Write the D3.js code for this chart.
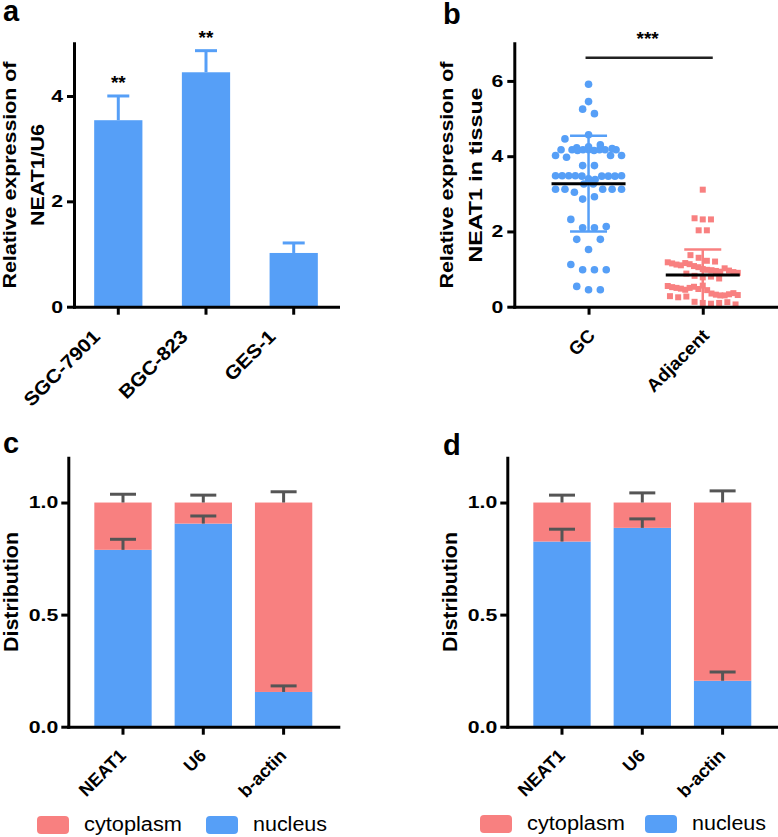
<!DOCTYPE html>
<html><head><meta charset="utf-8">
<script src="https://cdn.jsdelivr.net/npm/d3@7"></script>
<style>body{margin:0;background:#fff}svg{display:block}text{font-family:"Liberation Sans",Arial,sans-serif}</style>
</head><body><svg id="c" width="778" height="837"></svg>
<script>
// ---------- data ----------
const aCategories = ["SGC-7901", "BGC-823", "GES-1"];
const aValues = [3.54, 4.45, 1.02];
const aErrors = [0.46, 0.41, 0.19];
const aSignif = ["**", "**", ""];
const aTicks = [0, 2, 4];

const bGroups = ["GC", "Adjacent"];
const gcValues = [5.91, 5.45, 5.25, 5.13, 4.57, 4.46,
  4.22, 4.02, 4.17, 3.97, 4.17, 4.15, 4.17, 4.17, 4.15, 4.17, 4.17, 4.02, 4.17, 4.02, 4.25, 4.30, 4.20,
  3.75, 3.75,
  3.48, 3.48, 3.48, 3.48, 3.47, 3.40, 3.38, 3.47, 3.47, 3.47, 3.48,
  3.12, 3.12, 3.04, 3.26, 3.26, 3.12, 3.12, 3.12,
  2.86, 2.92,
  2.32, 2.10, 2.10, 2.13, 1.79, 1.52, 1.79, 1.12, 0.98, 0.98, 0.98, 0.54, 0.45, 0.45];
const adjValues = [3.11, 2.35, 2.32, 2.32, 2.03, 2.03, 1.37, 1.30,
  1.22, 1.18, 1.15, 1.12, 1.20, 1.10, 1.16, 1.13, 1.08, 1.05,
  1.00, 0.98, 0.97, 0.95, 0.93, 1.02, 0.96, 0.92, 0.90, 0.88,
  0.82, 0.78, 0.80, 0.75,
  0.55, 0.52, 0.50, 0.48, 0.45, 0.50, 0.53, 0.47, 0.56, 0.44,
  0.35, 0.32, 0.30, 0.28, 0.25, 0.30, 0.33, 0.27, 0.36, 0.31,
  0.13, 0.10, 0.08, 0.10, 0.12, 0.06];
const bMeans = [3.27, 0.84];
const bSDs = [1.27, 0.68];
const bSignif = "***";
const bTicks = [0, 2, 4, 6];

const cdCategories = ["NEAT1", "U6", "b-actin"];
const cdSeries = ["cytoplasm", "nucleus"];
const cNucleus = [0.789, 0.906, 0.155];
const cCytoplasm = [0.211, 0.094, 0.845];
const cNucleusErr = [0.047, 0.034, 0.027];
const cCytoplasmErr = [0.037, 0.033, 0.048];
const dNucleus = [0.826, 0.887, 0.205];
const dCytoplasm = [0.174, 0.113, 0.795];
const dNucleusErr = [0.055, 0.040, 0.039];
const dCytoplasmErr = [0.033, 0.043, 0.052];
const cdTicks = [0, 0.5, 1.0];

// ---------- style ----------
const BLUE = "#569ff7", RED = "#f88080", GRAY = "#555555";
const FONT = "Liberation Sans, Arial, sans-serif";
const svg = d3.select("#c");

function stretch(sel, f) {
  sel.each(function () {
    const L = this.getComputedTextLength();
    d3.select(this).attr("textLength", L * f).attr("lengthAdjust", "spacingAndGlyphs");
  });
}
function styleAxis(g, fs) {
  g.attr("font-family", FONT).attr("font-size", fs);
  g.select(".domain").attr("stroke", "#000").attr("stroke-width", 3).attr("stroke-linecap", "square");
  g.selectAll(".tick line").attr("stroke", "#000").attr("stroke-width", 3);
  g.selectAll(".tick text").attr("fill", "#000").attr("font-weight", "bold");
}
function letter(t, x, y) {
  svg.append("text").attr("x", x).attr("y", y).attr("font-size", 29).attr("font-weight", "bold").text(t);
}
function yTitle(lines, xs, cy, fs, lens) {
  lines.forEach((l, i) => {
    svg.append("text").attr("transform", `translate(${xs[i]},${cy}) rotate(-90)`)
      .attr("text-anchor", "middle").attr("font-size", fs).attr("font-weight", "bold")
      .attr("textLength", lens[i]).attr("lengthAdjust", "spacingAndGlyphs").text(l);
  });
}
function rotLabels(g, dx, dy, fs, f) {
  const t = g.selectAll(".tick text").attr("x", 0).attr("y", 0).attr("dy", 0)
    .attr("text-anchor", "end").attr("font-size", fs)
    .attr("transform", `translate(${dx},${dy}) rotate(-45)`);
  stretch(t, f);
}
// GraphPad-like column scatter: values binned into rows, spread symmetrically
function scatterOffsets(values, binH, slot, maxW) {
  const bins = d3.group(values.map((v, i) => ({v, i})), d => Math.floor(d.v / binH + 1e-9));
  const off = new Array(values.length).fill(0);
  for (const arr of bins.values()) {
    const n = arr.length;
    const s = n > 1 ? Math.min(slot, maxW / (n - 1)) : 0;
    arr.forEach((p, k) => { off[p.i] = (k - (n - 1) / 2) * s; });
  }
  return off;
}

// ---------- panel a ----------
letter("a", 3, 21);
const aY = d3.scaleLinear().domain([0, 5]).range([306.7, 43.3]);
const aX = d3.scaleBand().domain(aCategories).range([74, 338]).paddingInner(0.45).paddingOuter(0.23);
svg.append("g").selectAll("rect").data(aCategories).join("rect")
  .attr("x", d => aX(d)).attr("width", aX.bandwidth())
  .attr("y", (d, i) => aY(aValues[i])).attr("height", (d, i) => aY(0) - aY(aValues[i]))
  .attr("fill", BLUE);
const aErr = svg.append("g").attr("stroke", BLUE).attr("stroke-width", 3);
aCategories.forEach((c, i) => {
  const cx = aX(c) + aX.bandwidth() / 2, top = aY(aValues[i] + aErrors[i]);
  aErr.append("line").attr("x1", cx).attr("x2", cx).attr("y1", aY(aValues[i])).attr("y2", top);
  aErr.append("line").attr("x1", cx - 11).attr("x2", cx + 11).attr("y1", top).attr("y2", top);
  svg.append("text").attr("x", cx).attr("y", top - 7).attr("text-anchor", "middle")
    .attr("font-size", 19).attr("font-weight", "bold").text(aSignif[i]);
});
const aYg = svg.append("g").attr("transform", "translate(74,0)")
  .call(d3.axisLeft(aY).tickValues(aTicks).tickSize(7).tickSizeOuter(0).tickPadding(4).tickFormat(d3.format("d")));
styleAxis(aYg, 17); stretch(aYg.selectAll(".tick text"), 1.25);
const aXg = svg.append("g").attr("transform", "translate(0,306.7)")
  .call(d3.axisBottom(aX).tickSize(8).tickSizeOuter(0));
styleAxis(aXg, 19); rotLabels(aXg, -17, 31, 19, 1.1);
yTitle(["Relative expression of", "NEAT1/U6"], [16, 44], 175, 17.5, [227, 102]);

// ---------- panel b ----------
letter("b", 443, 24);
const bY = d3.scaleLinear().domain([0, 7]).range([306.7, 43.3]);
const bX = d3.scalePoint().domain(bGroups).range([514.3, 777]).padding(0.65);
const gcOff = scatterOffsets(gcValues, 0.3, 11.8, 66);
const adjOff = scatterOffsets(adjValues, 0.3, 8.2, 70);
svg.append("g").selectAll("circle").data(gcValues).join("circle")
  .attr("cx", (d, i) => bX("GC") + gcOff[i]).attr("cy", d => bY(d)).attr("r", 3.8).attr("fill", BLUE);
svg.append("g").selectAll("rect").data(adjValues).join("rect")
  .attr("x", (d, i) => bX("Adjacent") + adjOff[i] - 3).attr("y", d => bY(d) - 3)
  .attr("width", 6).attr("height", 6).attr("fill", RED);
bGroups.forEach((g, i) => {
  const cx = bX(g), col = i === 0 ? BLUE : RED;
  const hi = bY(bMeans[i] + bSDs[i]), lo = bY(bMeans[i] - bSDs[i]);
  const e = svg.append("g").attr("stroke", col).attr("stroke-width", 2.5);
  e.append("line").attr("x1", cx).attr("x2", cx).attr("y1", hi).attr("y2", i === 0 ? lo : bY(0));
  e.append("line").attr("x1", cx - 18.5).attr("x2", cx + 18.5).attr("y1", hi).attr("y2", hi);
  if (i === 0) e.append("line").attr("x1", cx - 18.5).attr("x2", cx + 18.5).attr("y1", lo).attr("y2", lo);
  svg.append("line").attr("x1", cx - 37).attr("x2", cx + 37).attr("y1", bY(bMeans[i])).attr("y2", bY(bMeans[i]))
    .attr("stroke", "#000").attr("stroke-width", 3);
});
svg.append("line").attr("x1", bX("GC") - 3).attr("x2", bX("Adjacent") + 10).attr("y1", 57.7).attr("y2", 57.7)
  .attr("stroke", "#222").attr("stroke-width", 2.5);
svg.append("text").attr("x", (bX("GC") + bX("Adjacent")) / 2 + 2).attr("y", 45).attr("text-anchor", "middle")
  .attr("font-size", 19).attr("font-weight", "bold").text(bSignif);
const bYg = svg.append("g").attr("transform", "translate(514.3,0)")
  .call(d3.axisLeft(bY).tickValues(bTicks).tickSize(7).tickSizeOuter(0).tickPadding(4).tickFormat(d3.format("d")));
styleAxis(bYg, 17); stretch(bYg.selectAll(".tick text"), 1.25);
const bXg = svg.append("g").attr("transform", "translate(0,306.7)")
  .call(d3.axisBottom(bX).tickSize(8).tickSizeOuter(0));
styleAxis(bXg, 18); rotLabels(bXg, 7, 30, 18, 1.05);
yTitle(["Relative expression of", "NEAT1 in tissue"], [453, 482], 175, 17.5, [227, 175]);

// ---------- panels c & d ----------
function stacked(opt) {
  const {x0, nuc, cyto, nucErr, cytoErr, lt, lx, ly, ty, tx, leg} = opt;
  letter(lt, lx, ly);
  const y = d3.scaleLinear().domain([0, 1.2]).range([726.7, 457.7]);
  const x = d3.scaleBand().domain(cdCategories).range([x0, x0 + 270]).paddingInner(0.286).paddingOuter(0.324);
  const rows = cdCategories.map((c, i) => ({cat: c, nucleus: nuc[i], cytoplasm: cyto[i]}));
  const stack = d3.stack().keys(["nucleus", "cytoplasm"])(rows);
  const color = {nucleus: BLUE, cytoplasm: RED};
  svg.append("g").selectAll("g").data(stack).join("g").attr("fill", d => color[d.key])
    .selectAll("rect").data(d => d).join("rect")
    .attr("x", d => x(d.data.cat)).attr("width", x.bandwidth())
    .attr("y", d => y(d[1])).attr("height", d => y(d[0]) - y(d[1]));
  const e = svg.append("g").attr("stroke", GRAY).attr("stroke-width", 3);
  cdCategories.forEach((c, i) => {
    const cx = x(c) + x.bandwidth() / 2;
    [[nuc[i], nucErr[i]], [nuc[i] + cyto[i], cytoErr[i]]].forEach(([v, er]) => {
      e.append("line").attr("x1", cx).attr("x2", cx).attr("y1", y(v)).attr("y2", y(v + er));
      e.append("line").attr("x1", cx - 13).attr("x2", cx + 13).attr("y1", y(v + er)).attr("y2", y(v + er));
    });
  });
  const yg = svg.append("g").attr("transform", `translate(${x0},0)`)
    .call(d3.axisLeft(y).tickValues(cdTicks).tickSize(7).tickSizeOuter(0).tickPadding(3).tickFormat(d3.format(".1f")));
  styleAxis(yg, 17); stretch(yg.selectAll(".tick text"), 1.25);
  const xg = svg.append("g").attr("transform", "translate(0,726.7)")
    .call(d3.axisBottom(x).tickSize(8).tickSizeOuter(0));
  styleAxis(xg, 18); rotLabels(xg, 4, 30, 18, 1.0);
  yTitle(["Distribution"], [tx], 592, 20.5, [120]);
  // legend
  const lg = svg.append("g");
  cdSeries.forEach((s, i) => {
    lg.append("rect").attr("x", leg[i * 2]).attr("y", ty).attr("width", 32).attr("height", 18).attr("rx", 4)
      .attr("fill", s === "nucleus" ? BLUE : RED);
    lg.append("text").attr("x", leg[i * 2 + 1]).attr("y", ty + 14.5).attr("font-size", 20)
      .attr("textLength", s === "nucleus" ? 74 : 98).attr("lengthAdjust", "spacingAndGlyphs").text(s);
  });
}
stacked({x0: 68.3, nuc: cNucleus, cyto: cCytoplasm, nucErr: cNucleusErr, cytoErr: cCytoplasmErr,
  lt: "c", lx: 3, ly: 453, ty: 816, tx: 17.5, leg: [37, 84, 206, 253]});
stacked({x0: 507.3, nuc: dNucleus, cyto: dCytoplasm, nucErr: dNucleusErr, cytoErr: dCytoplasmErr,
  lt: "d", lx: 443, ly: 455, ty: 815, tx: 456.7, leg: [480, 527, 645, 692]});
</script></body></html>
